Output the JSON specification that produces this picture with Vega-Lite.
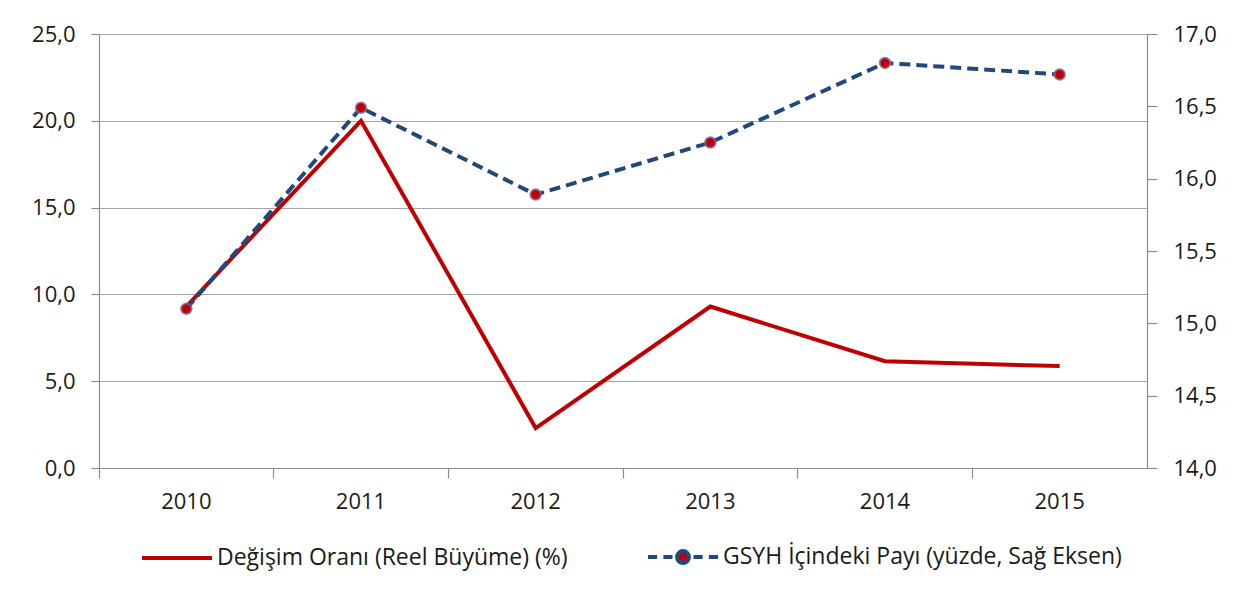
{
  "$schema": "https://vega.github.io/schema/vega-lite/v6.json",
  "width": 1048,
  "height": 434,
  "autosize": {"type": "none"},
  "padding": {"left": 99, "top": 34, "right": 90, "bottom": 131},
  "background": "white",
  "config": {
    "view": {"stroke": null},
    "font": "Open Sans",
    "axis": {"labelFont": "Open Sans", "labelFontSize": 22, "labelColor": "#1a1a1a", "domainColor": "#8c8c8c", "tickColor": "#8c8c8c", "domainWidth": 1.2, "tickWidth": 1.2, "title": null}
  },
  "data": {
    "values": [
      {"year": "2010", "growth": 9.3, "share": 15.10},
      {"year": "2011", "growth": 20.0, "share": 16.49},
      {"year": "2012", "growth": 2.3, "share": 15.89},
      {"year": "2013", "growth": 9.3, "share": 16.25},
      {"year": "2014", "growth": 6.15, "share": 16.80},
      {"year": "2015", "growth": 5.87, "share": 16.72}
    ]
  },
  "encoding": {
    "x": {
      "field": "year", "type": "nominal",
      "scale": {"type": "band", "paddingInner": 0, "paddingOuter": 0},
      "axis": {"labelAngle": 0, "bandPosition": 0, "tickSize": 10, "labelPadding": 13, "grid": false}
    }
  },
  "layer": [
    {
      "mark": {"type": "line", "strokeWidth": 4},
      "encoding": {
        "y": {
          "field": "growth", "type": "quantitative",
          "scale": {"domain": [0, 25], "nice": false, "zero": false},
          "axis": {"values": [0, 5, 10, 15, 20, 25], "tickSize": 8, "labelPadding": 16, "grid": true, "gridColor": "#a6a6a6", "gridWidth": 1.2, "labelExpr": "replace(format(datum.value, '.1f'), '.', ',')"}
        },
        "color": {
          "datum": "Değişim Oranı (Reel Büyüme) (%)",
          "type": "nominal",
          "scale": {"domain": ["Değişim Oranı (Reel Büyüme) (%)", "GSYH İçindeki Payı (yüzde, Sağ Eksen)"], "range": ["#C00000", "#1F497D"]},
          "legend": {
            "title": null,
            "orient": "none",
            "direction": "horizontal",
            "legendX": 41,
            "legendY": 486,
            "symbolSize": 4900,
            "symbolStrokeWidth": 4,
            "labelFont": "Open Sans",
            "labelFontSize": 23,
            "labelColor": "#1a1a1a",
            "labelLimit": 700,
            "labelOffset": 3,
            "columnPadding": 72,
            "encode": {
              "symbols": {
                "update": {
                  "shape": {"signal": "datum.value === 'GSYH İçindeki Payı (yüzde, Sağ Eksen)' ? 'M-1,0H-0.74M-0.56,0H-0.3M0.3,0H0.56M0.74,0H1M0.17,0A0.17,0.17 0 1,1 -0.17,0A0.17,0.17 0 1,1 0.17,0Z' : 'stroke'"},
                  "fill": {"signal": "datum.value === 'GSYH İçindeki Payı (yüzde, Sağ Eksen)' ? '#C00000' : 'transparent'"}
                }
              }
            }
          }
        }
      }
    },
    {
      "encoding": {
        "y": {
          "field": "share", "type": "quantitative",
          "scale": {"domain": [14, 17], "nice": false, "zero": false},
          "axis": {"orient": "right", "values": [14, 14.5, 15, 15.5, 16, 16.5, 17], "tickSize": 10, "labelPadding": 16, "grid": false, "labelExpr": "replace(format(datum.value, '.1f'), '.', ',')"}
        }
      },
      "layer": [
        {
          "mark": {"type": "line", "strokeWidth": 4, "strokeDash": [11, 6]},
          "encoding": {
            "color": {"datum": "GSYH İçindeki Payı (yüzde, Sağ Eksen)", "type": "nominal"}
          }
        },
        {
          "mark": {"type": "point", "filled": true, "fill": "#C00000", "stroke": "#8064A2", "strokeWidth": 2, "strokeOpacity": 0.8, "fillOpacity": 1, "size": 110, "opacity": 1},
          "encoding": {}
        }
      ]
    }
  ],
  "resolve": {"scale": {"y": "independent"}}
}
